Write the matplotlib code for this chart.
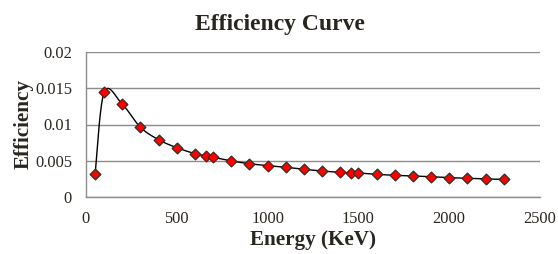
import numpy as np
import matplotlib.pyplot as plt

plt.rcParams['font.family'] = ['Liberation Serif', 'DejaVu Serif']

energy = [50, 100, 200, 300, 400, 500, 600, 662, 700, 800, 900, 1000,
          1100, 1200, 1300, 1400, 1460, 1500, 1600, 1700, 1800, 1900,
          2000, 2100, 2200, 2300]
eff = [0.00313, 0.01444, 0.01279, 0.00961, 0.0079, 0.0068, 0.00598, 0.00566,
       0.00547, 0.00497, 0.0046, 0.00432, 0.0041, 0.00382, 0.00359, 0.0034,
       0.00335, 0.00331, 0.00313, 0.00299, 0.0029, 0.0028, 0.00267, 0.00258,
       0.00248, 0.00244]

xmax, ymax = 2500, 0.02


def smooth(x, y, aspect, n=30):
    # spreadsheet-style smoothed line: cubic bezier, catmull-rom controls
    px = np.asarray(x) / xmax * aspect
    py = np.asarray(y) / ymax
    P = np.column_stack([px, py])
    out = []
    for i in range(len(P) - 1):
        p0 = P[i - 1] if i > 0 else P[i]
        p1, p2 = P[i], P[i + 1]
        p3 = P[i + 2] if i + 2 < len(P) else P[i + 1]
        c1 = p1 + (p2 - p0) / 6
        c2 = p2 - (p3 - p1) / 6
        t = np.linspace(0, 1, n)[:, None]
        seg = (1 - t)**3 * p1 + 3 * (1 - t)**2 * t * c1 + 3 * (1 - t) * t**2 * c2 + t**3 * p2
        out.append(seg)
    s = np.vstack(out)
    return s[:, 0] / aspect * xmax, s[:, 1] * ymax


txt = '#29251f'
fig = plt.figure(figsize=(5.58, 2.54), dpi=100)
ax = fig.add_axes([86/558, 57/254, 454/558, 145/254])

sx, sy = smooth(energy, eff, 454/145)
ax.plot(sx, sy, color='black', lw=1.0, zorder=2)
ax.scatter(energy, eff, marker='D', s=30, color='#ff0000', edgecolors='#3a2a20',
           linewidths=0.9, zorder=3)

ax.set_xlim(0, xmax)
ax.set_ylim(0, ymax)
ax.set_xticks([0, 500, 1000, 1500, 2000, 2500])
ax.set_yticks([0, 0.005, 0.01, 0.015, 0.02])
ax.set_yticklabels(['0', '0.005', '0.01', '0.015', '0.02'])
ax.tick_params(length=0, labelsize=11.8, colors=txt)
ax.tick_params(axis='y', pad=10)
ax.tick_params(axis='x', pad=10)
ax.grid(axis='y', color='#8c8c8c', lw=1.0)
for side in ['top', 'right']:
    ax.spines[side].set_visible(False)
for side in ['left', 'bottom']:
    ax.spines[side].set_color('#8c8c8c')
    ax.spines[side].set_linewidth(1.0)

fig.text(280/558, 1 - 30/254, 'Efficiency Curve', fontsize=17, fontweight='bold',
         color=txt, ha='center', va='baseline')
ax.set_xlabel('Energy (KeV)', fontsize=15.2, fontweight='bold', color=txt)
ax.set_ylabel('Efficiency', fontsize=15.2, fontweight='bold', color=txt)
ax.xaxis.set_label_coords((313 - 86) / 454, (197 - 245) / 145, transform=ax.transAxes)
ax.yaxis.set_label_coords((14 - 86) / 454, (197 - 124) / 145, transform=ax.transAxes)
ax.xaxis.label.set_va('baseline')
ax.yaxis.label.set_va('top')

fig.savefig('out.png', dpi=100)
